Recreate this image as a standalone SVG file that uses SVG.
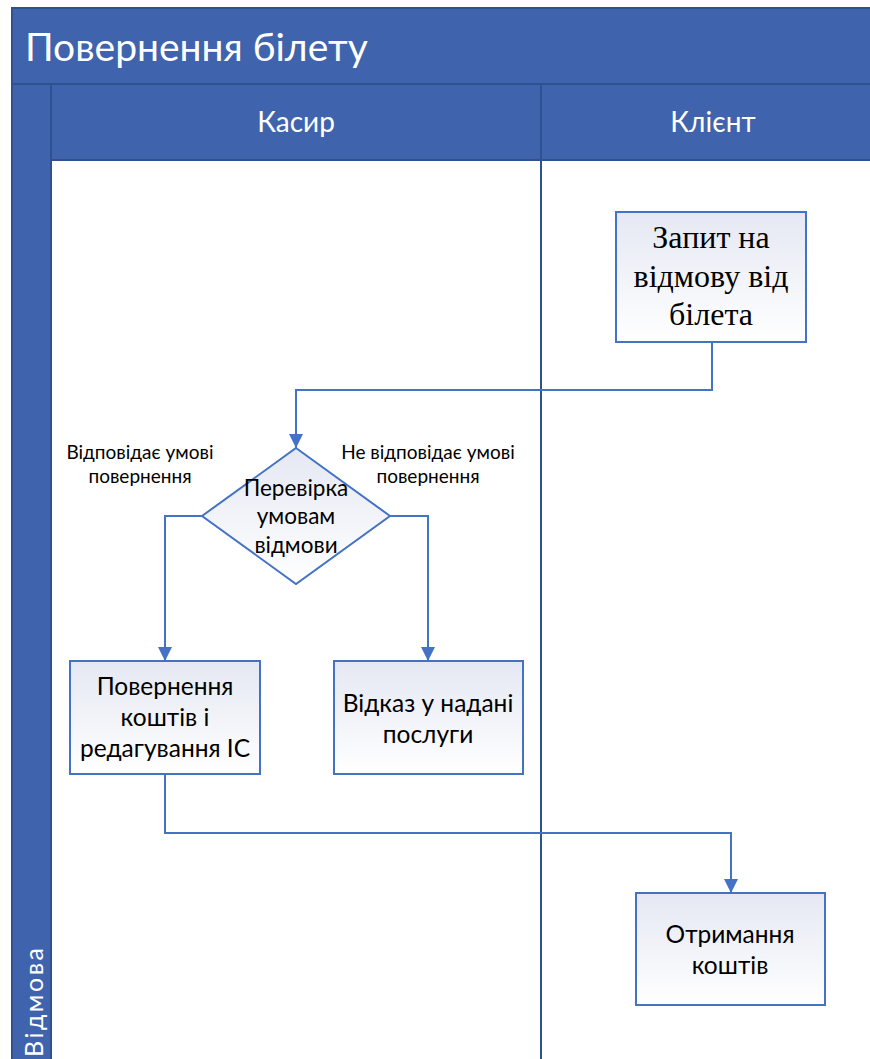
<svg xmlns="http://www.w3.org/2000/svg" width="870" height="1059" viewBox="0 0 870 1059">
<style>
.band{fill:#3f64ad;stroke:#2f528f;stroke-width:2}
.hdr{font-family:Lato,"Noto Sans",sans-serif;fill:#fff;text-anchor:middle}
.node{stroke:#4472c4;stroke-width:2;fill:url(#g)}
.t{font-family:Lato,"Noto Sans",sans-serif;fill:#000;text-anchor:middle;font-size:24.5px}
.td{font-family:Lato,"Noto Sans",sans-serif;fill:#000;text-anchor:middle;font-size:22.5px}
.ts{font-family:"Liberation Serif",serif;fill:#000;text-anchor:middle;font-size:32px}
.lbl{font-family:Lato,"Noto Sans",sans-serif;fill:#000;text-anchor:middle;font-size:19px}
.c{fill:none;stroke:#4472c4;stroke-width:2;marker-end:url(#a)}
</style>
<defs>
<linearGradient id="g" x1="0" y1="0" x2="0" y2="1">
<stop offset="0" stop-color="#e5e8f3"/>
<stop offset="1" stop-color="#ffffff"/>
</linearGradient>
<marker id="a" viewBox="0 0 14 14" refX="14" refY="7" markerWidth="14" markerHeight="14" markerUnits="userSpaceOnUse" orient="auto">
<path d="M0,0 L14,7 L0,14 Z" fill="#4472c4"/>
</marker>
</defs>
<rect width="870" height="1059" fill="#fff"/>
<g id="pool">
<rect class="band" x="12" y="8" width="860" height="76"/>
<text class="hdr" x="25" y="61" font-size="39" style="text-anchor:start">Повернення білету</text>
<rect class="band" x="12" y="84" width="39" height="977"/>
<text class="hdr" transform="translate(43,1057) rotate(-90)" x="0" y="0" font-size="25" style="text-anchor:start;letter-spacing:2.5px">Відмова</text>
<rect class="band" x="51" y="84" width="490" height="76"/>
<text class="hdr" x="296" y="132" font-size="28">Касир</text>
<rect class="band" x="541" y="84" width="331" height="76"/>
<text class="hdr" x="713" y="132" font-size="28">Клієнт</text>
<line x1="541" y1="160" x2="541" y2="1059" stroke="#2f528f" stroke-width="2"/>
</g>
<g id="connectors">
<path class="c" d="M712,342 V390 H296 V448"/>
<path class="c" d="M202,516 H165 V661"/>
<path class="c" d="M390,516 H428 V661"/>
<path class="c" d="M165,774 V833 H731 V893"/>
<text class="lbl" x="140" y="459">Відповідає умові</text>
<text class="lbl" x="140" y="483">повернення</text>
<text class="lbl" x="428" y="459">Не відповідає умові</text>
<text class="lbl" x="428" y="483">повернення</text>
</g>
<g id="n1">
<rect class="node" x="616" y="212" width="190" height="130"/>
<text class="ts" x="711" y="248">Запит на</text>
<text class="ts" x="711" y="287">відмову від</text>
<text class="ts" x="711" y="325">білета</text>
</g>
<g id="n2">
<path class="node" d="M296,448 L390,516 L296,584 L202,516 Z"/>
<text class="td" x="296" y="496">Перевірка</text>
<text class="td" x="296" y="524">умовам</text>
<text class="td" x="296" y="553">відмови</text>
</g>
<g id="n3">
<rect class="node" x="70" y="661" width="190" height="113"/>
<text class="t" x="165" y="695">Повернення</text>
<text class="t" x="165" y="726">коштів і</text>
<text class="t" x="165" y="757">редагування ІС</text>
</g>
<g id="n4">
<rect class="node" x="334" y="661" width="189" height="113"/>
<text class="t" x="428" y="712">Відказ у надані</text>
<text class="t" x="428" y="743">послуги</text>
</g>
<g id="n5">
<rect class="node" x="636" y="893" width="189" height="112"/>
<text class="t" x="730" y="943">Отримання</text>
<text class="t" x="730" y="974">коштів</text>
</g>
</svg>
